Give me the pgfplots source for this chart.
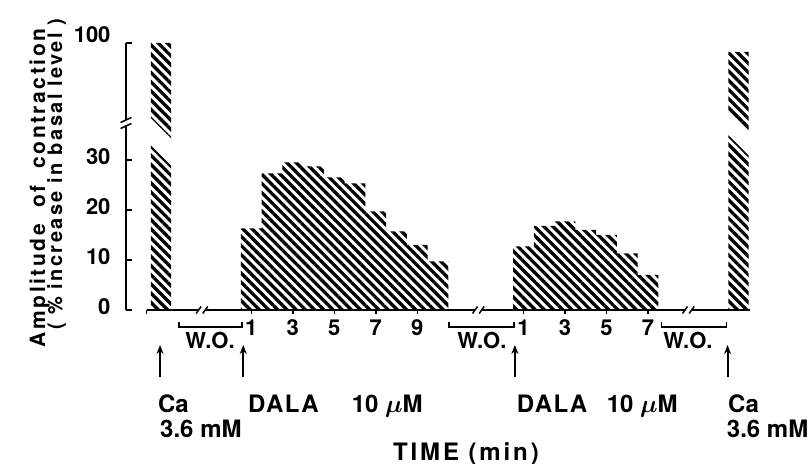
\documentclass[border=0pt]{standalone}
\usepackage{fontspec}
\setmainfont{TeX Gyre Heros}
\newfontfamily\widefont[LetterSpace=12]{TeX Gyre Heros}
\newfontfamily\midfont[LetterSpace=6]{TeX Gyre Heros}
\usepackage{amsmath}
\usepackage{pgfplots}
\pgfplotsset{compat=1.18}
\usetikzlibrary{patterns.meta,arrows.meta}

\tikzset{
  hatch/.style={draw=none, pattern={Lines[angle=-45,distance=6.5bp,line width=3.3bp]}, pattern color=black},
  lab/.style={font=\fontsize{24bp}{26bp}\selectfont\bfseries, inner sep=0pt},
}
% break mark on the x axis: gap from #1 to #2, slashes #3--#4 and #5--#6
\newcommand\xbreak[6]{%
  \fill[white] (axis cs:#1,-0.9) rectangle (axis cs:#2,0.9);
  \draw[line width=1.5bp] (axis cs:#3,-0.7) -- (axis cs:#4,0.7);
  \draw[line width=1.5bp] (axis cs:#5,-0.7) -- (axis cs:#6,0.7);
}
\newcommand\wo[3]{% left, right, text centre
  \draw[line width=1.6bp] (axis cs:#1,-2.3) -- (axis cs:#1,-3.34) -- (axis cs:#2,-3.34) -- (axis cs:#2,-2.3);
  \node[lab, font=\fontsize{22bp}{24bp}\selectfont\bfseries, anchor=base] at (axis cs:#3,-7.6) {W.O.};
}
\newcommand\uparr[1]{%
  \draw[line width=2bp, -{Stealth[length=9bp,width=7bp]}] (axis cs:#1,-13.4) -- (axis cs:#1,-7);
}

\begin{document}
\begin{tikzpicture}
\useasboundingbox (0,0) rectangle (808bp,464bp);
\begin{axis}[
  at={(126bp,154bp)}, anchor=south west,
  scale only axis, width=625bp, height=267bp,
  xmin=-5.54, xmax=24.58, ymin=0, ymax=53.4,
  clip=false,
  axis x line*=bottom, axis y line*=left,
  axis line style={draw=none},
  xtick={0.5,2.5,4.5,6.5,8.5,13.62,15.62,17.62,19.62},
  xticklabels={1,3,5,7,9,1,3,5,7},
  ytick={0,10,20,30},
  yticklabels={0,10,20,30},
  extra y ticks={53.4},
  extra y tick labels={100},
  extra y tick style={yticklabel style={yshift=5bp}},
  tick align=outside,
  major tick length=4bp,
  x tick style={black, line width=1.4bp},
  y tick style={draw=none},
  ticklabel style={font=\fontsize{22bp}{24bp}\selectfont\bfseries},
  xticklabel style={yshift=-2bp},
  yticklabel style={xshift=-8bp, yshift=3bp},
  /pgf/number format/assume math mode=true,
]
% Ca 3.6 mM responses (100 % drawn on the broken scale)
\addplot[ybar, bar width=0.98, bar shift=0pt, hatch]
  coordinates {(-3.85,53.4) (23.98,51.6)};
% DALA 10 uM, first application, minutes 1..10
\addplot[ybar, bar width=1, bar shift=0pt, hatch]
  coordinates {(0.5,16.3) (1.5,27.3) (2.5,29.5) (3.5,28.7) (4.5,26.5)
               (5.5,25.3) (6.5,19.7) (7.5,15.7) (8.5,13.0) (9.5,9.7)};
% DALA 10 uM, second application, minutes 1..7
\addplot[ybar, bar width=1, bar shift=0pt, hatch]
  coordinates {(13.62,12.7) (14.62,16.8) (15.62,17.7) (16.62,16.0)
               (17.62,15.0) (18.62,11.3) (19.62,7.0)};

% breaks in the two Ca bars
\fill[white] (axis cs:-4.6,39.4) -- (axis cs:-3.1,33.2) -- (axis cs:-3.1,27.8) -- (axis cs:-4.6,34.0) -- cycle;
\fill[white] (axis cs:23.3,40.4) -- (axis cs:24.7,34.6) -- (axis cs:24.7,30.0) -- (axis cs:23.3,35.8) -- cycle;

% y axis with break
\draw[line width=2bp] (axis cs:-5.54,0) -- (axis cs:-5.54,36.9);
\draw[line width=2bp] (axis cs:-5.54,37.9) -- (axis cs:-5.54,53.4);
\draw[line width=1.5bp] (axis cs:-5.8,36.3) -- (axis cs:-5.28,37.3);
\draw[line width=1.5bp] (axis cs:-5.8,37.5) -- (axis cs:-5.28,38.5);
\draw[line width=1.6bp] (axis cs:-5.54,0) -- (axis cs:-5.25,0);
\draw[line width=1.6bp] (axis cs:-5.54,10) -- (axis cs:-5.25,10);
\draw[line width=1.6bp] (axis cs:-5.54,20) -- (axis cs:-5.25,20);
\draw[line width=1.6bp] (axis cs:-5.54,30) -- (axis cs:-5.25,30);
\draw[line width=1.6bp] (axis cs:-5.54,53.4) -- (axis cs:-5.25,53.4);

% x axis with breaks
\draw[line width=2bp] (axis cs:-4.55,0) -- (axis cs:24.53,0);
\draw[line width=1.4bp] (axis cs:-4.55,0) -- (axis cs:-4.55,-0.8);
\xbreak{-2.06}{-1.70}{-2.16}{-1.92}{-1.84}{-1.60}
\xbreak{11.26}{11.62}{11.16}{11.40}{11.48}{11.72}
\xbreak{21.38}{21.74}{21.28}{21.52}{21.60}{21.84}

% wash-out brackets
\wo{-2.99}{0.05}{-1.49}
\wo{10.02}{13.16}{11.61}
\wo{20.27}{23.40}{21.54}

% application arrows
\uparr{-3.9}
\uparr{0.11}
\uparr{13.2}
\uparr{23.45}

% labels under the arrows
\node[lab, anchor=base west] at (axis cs:-4.0,-20.4) {Ca};
\node[lab, anchor=base west] at (axis cs:-3.9,-25.4) {3.6 mM};
\node[lab, anchor=base west] at (axis cs:0.34,-20.4) {\midfont\bfseries DALA};
\node[lab, anchor=base west] at (axis cs:5.33,-20.4) {10 $\boldsymbol{\mu}$M};
\node[lab, anchor=base west] at (axis cs:13.29,-20.4) {\midfont\bfseries DALA};
\node[lab, anchor=base west] at (axis cs:17.62,-20.4) {10 $\boldsymbol{\mu}$M};
\node[lab, anchor=base west] at (axis cs:23.47,-20.4) {Ca};
\node[lab, anchor=base west] at (axis cs:23.41,-25.4) {3.6 mM};
\node[lab, anchor=base] at (axis cs:10.84,-30) {\widefont\bfseries TIME (min)};
\end{axis}
% y axis title, two lines
\node[rotate=90, anchor=base, font=\fontsize{21bp}{23bp}\selectfont\bfseries, inner sep=0pt]
  at (45bp,276bp) {\widefont\bfseries Amplitude \ of \ contraction};
\node[rotate=90, anchor=base, font=\fontsize{20bp}{22bp}\selectfont\bfseries, inner sep=0pt]
  at (62bp,290bp) {\widefont\bfseries ( \% increase in basal level )};
\end{tikzpicture}
\end{document}
